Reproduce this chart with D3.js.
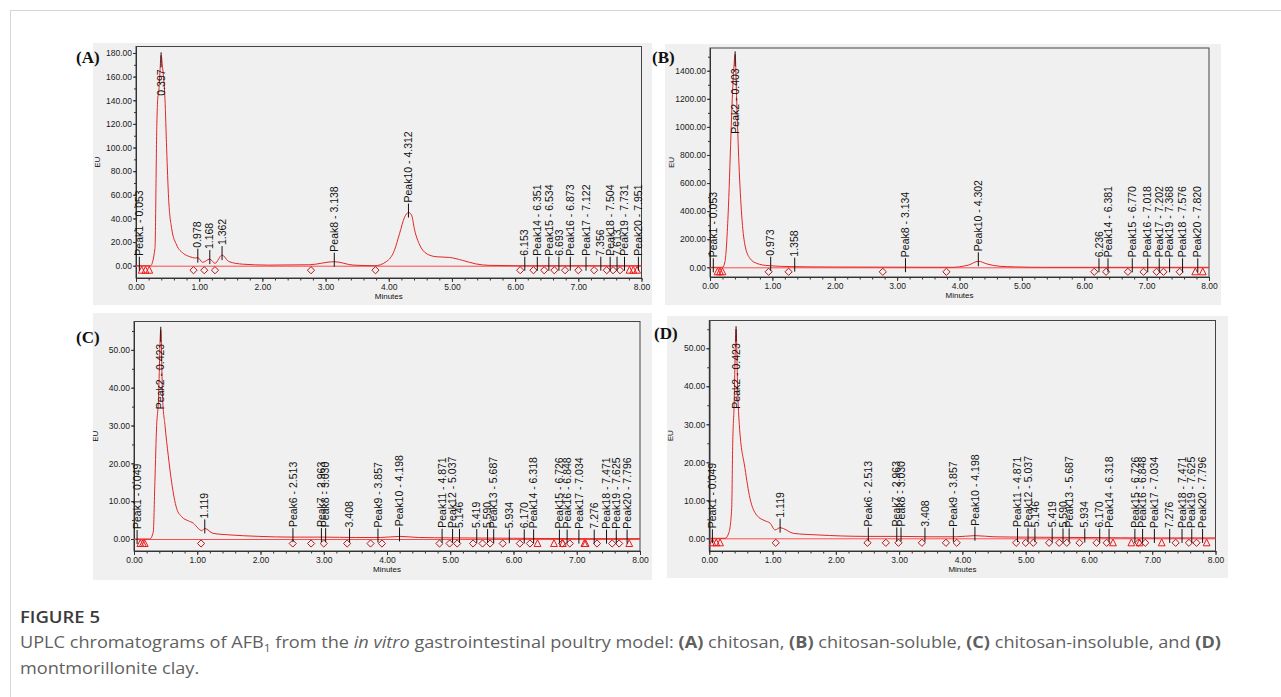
<!DOCTYPE html>
<html>
<head>
<meta charset="utf-8">
<script src="https://cdn.jsdelivr.net/npm/d3@7"></script>
<style>
  body { margin: 0; background: #fff; }
  svg text { font-family: "Liberation Sans", Arial, sans-serif; }
</style>
</head>
<body>
<svg id="fig" width="1281" height="697"></svg>
<script>
// values (minutes, EU)
var minutes = [0, 1, 2, 3, 4, 5, 6, 7, 8];

var traceA = [[0,0],[0.23,0],[0.30,14.7],[0.33,120],[0.345,142],[0.36,147],[0.38,165],[0.397,178],[0.42,168],[0.458,141.6],
    [0.485,99],[0.516,57],[0.564,31.6],[0.643,17.5],[0.748,10.5],[0.853,7.6],[0.94,6.5],[0.978,6.8],[1.054,2.9],[1.168,5.6],
    [1.25,2],[1.362,9],[1.47,3.5],[1.69,1.3],[2.1,0.5],[2.74,0.8],[3.138,3.4],[3.44,0.5],[3.78,0],[3.96,3.4],[4.09,13],
    [4.17,27],[4.25,41],[4.312,45],[4.36,43],[4.41,30],[4.49,17.5],[4.59,10.5],[4.75,7.6],[4.96,7],[5.17,4.5],[5.38,1.5],
    [5.59,0.3],[6.0,0],[8,0]];
var traceB = [[0,0],[0.2,0],[0.24,40],[0.29,372],[0.336,942],[0.357,1203],[0.38,1400],[0.403,1517],[0.427,1203],[0.465,728],
    [0.508,372],[0.56,159],[0.64,64],[0.75,28],[0.93,12],[1.3,5],[2,2],[3,1],[3.9,0],[4.0,4],[4.15,17],[4.302,43],[4.44,24],
    [4.65,7],[4.9,3],[5.3,0],[8,0]];
var traceC = [[0,0],[0.25,0],[0.305,1.9],[0.33,15],[0.358,30],[0.385,36],[0.423,55.3],[0.453,37],[0.49,30],[0.542,22],
    [0.595,15],[0.674,8.1],[0.753,5.9],[0.858,4.8],[0.937,4.2],[1.016,2.8],[1.07,2.2],[1.119,2.8],[1.25,1.5],[1.5,1.1],
    [1.97,0.7],[2.5,0.5],[3.0,0.5],[3.5,0.4],[3.9,0.4],[4.2,0.7],[4.5,0.4],[5,0.3],[6,0.2],[7,0.1],[8,0.1]];
var traceD = [[0,0],[0.25,0],[0.31,1.5],[0.354,7.9],[0.37,25],[0.39,34],[0.423,55],[0.45,38],[0.474,30],[0.564,18.4],
    [0.643,10.5],[0.748,6.1],[0.88,4.6],[0.96,4.0],[1.04,2.2],[1.119,2.8],[1.33,1.3],[1.7,0.9],[2.5,0.5],[3.0,0.5],
    [3.5,0.4],[3.9,0.4],[4.2,0.7],[4.5,0.4],[5,0.3],[6,0.2],[7,0.1],[8,0.1]];

// peak labels (retention time is the number at the end)
var labelsA = ["Peak1 - 0.053", "0.397", "0.978", "1.168", "1.362", "Peak8 - 3.138", "Peak10 - 4.312", "6.153",
    "Peak14 - 6.351", "Peak15 - 6.534", "6.693", "Peak16 - 6.873", "Peak17 - 7.122", "7.356", "Peak18 - 7.504",
    "7.613", "Peak19 - 7.731", "Peak20 - 7.951"];
var labelsB = ["Peak1 - 0.053", "Peak2 - 0.403", "0.973", "1.358", "Peak8 - 3.134", "Peak10 - 4.302", "6.236",
    "Peak14 - 6.381", "Peak15 - 6.770", "Peak16 - 7.018", "Peak17 - 7.202", "Peak19 - 7.368", "Peak18 - 7.576",
    "Peak20 - 7.820"];
var labelsCD = ["Peak1 - 0.049", "Peak2 - 0.423", "1.119", "Peak6 - 2.513", "Peak7 - 2.963", "Peak8 - 3.030", "3.408",
    "Peak9 - 3.857", "Peak10 - 4.198", "Peak11 - 4.871", "Peak12 - 5.037", "5.146", "5.419", "5.590", "Peak13 - 5.687",
    "5.934", "6.170", "Peak14 - 6.318", "Peak15 - 6.726", "Peak16 - 6.848", "Peak17 - 7.034", "7.276", "Peak18 - 7.471",
    "Peak19 - 7.625", "Peak20 - 7.796"];

// integration markers under the baseline
var diamondsA = [0.91, 1.08, 1.25, 2.77, 3.79, 6.08, 6.29, 6.46, 6.62, 6.79, 7.0, 7.25, 7.45, 7.55, 7.66];
var trianglesA = [0.09, 0.15, 0.21, 7.81, 7.87, 7.93];
var diamondsB = [0.94, 1.26, 2.77, 3.79, 6.16, 6.35, 6.7, 6.95, 7.16, 7.27, 7.53];
var trianglesB = [0.12, 0.16, 0.2, 7.78, 7.9];
var diamondsC = [1.06, 2.51, 2.8, 3.0, 3.37, 3.74, 3.92, 4.83, 4.99, 5.11, 5.36, 5.51, 5.63, 5.83, 6.1, 6.26, 6.77,
    6.89, 7.32, 7.56, 7.67];
var trianglesC = [0.1, 0.14, 0.17, 6.38, 6.64, 6.78, 7.12, 7.14, 7.83];
var diamondsD = [1.05, 2.5, 2.79, 2.99, 3.36, 3.74, 3.91, 4.85, 5.0, 5.12, 5.37, 5.53, 5.65, 5.85, 6.12, 6.28, 6.78,
    6.89, 7.37, 7.58, 7.7];
var trianglesD = [0.05, 0.11, 0.17, 6.38, 6.67, 6.8, 7.15, 7.86];

var yTicksA = d3.range(0, 181, 20), yTicksB = d3.range(0, 1401, 200), yTicksCD = d3.range(0, 51, 10);

var panels = [
    {letter: "(A)", trace: traceA, labels: labelsA, diamonds: diamondsA, triangles: trianglesA, yTicks: yTicksA, yStep: 10,
        box: [93, 43, 559, 262], plot: [136, 46.5, 641.5, 278], yDomain: [-10.4, 185.5], lpos: [76, 63]},
    {letter: "(B)", trace: traceB, labels: labelsB, diamonds: diamondsB, triangles: trianglesB, yTicks: yTicksB, yStep: 100,
        box: [665, 44, 556, 261], plot: [710, 48, 1209, 277], yDomain: [-69, 1562], lpos: [652, 63]},
    {letter: "(C)", trace: traceC, labels: labelsCD, diamonds: diamondsC, triangles: trianglesC, yTicks: yTicksCD, yStep: 5,
        box: [93, 313, 559, 267], plot: [134, 321.5, 640, 551], yDomain: [-3.17, 57.5], lpos: [76, 343]},
    {letter: "(D)", trace: traceD, labels: labelsCD, diamonds: diamondsD, triangles: trianglesD, yTicks: yTicksCD, yStep: 5,
        box: [667, 316, 561, 262], plot: [709.3, 320.5, 1215.5, 551], yDomain: [-3.34, 57.3], lpos: [654, 339]}
];

var svg = d3.select("#fig");

// page frame
svg.append("line").attr("x1", 10).attr("y1", 10.5).attr("x2", 1281).attr("y2", 10.5).attr("stroke", "#d6d6d6");
svg.append("line").attr("x1", 10.5).attr("y1", 10).attr("x2", 10.5).attr("y2", 697).attr("stroke", "#d6d6d6");

function traceAt(tr, t) {
    var i = d3.bisector(function(d) { return d[0]; }).left(tr, t);
    if (i <= 0) return tr[0][1];
    if (i >= tr.length) return tr[tr.length - 1][1];
    var a = tr[i - 1], b = tr[i];
    return a[1] + (b[1] - a[1]) * (t - a[0]) / (b[0] - a[0]);
}

function styleAxis(sel) {
    sel.attr("font-size", null).attr("font-family", null);
    sel.select(".domain").attr("stroke", "#333");
    sel.selectAll(".tick line").attr("stroke", "#333");
    sel.selectAll("text").style("font-size", "8.5px").attr("fill", "#1a1a1a");
}

function drawPanel(p) {
    var g = svg.append("g");
    var x0 = p.plot[0], y0 = p.plot[1], x1 = p.plot[2], y1 = p.plot[3];

    g.append("rect")
        .attr("x", p.box[0]).attr("y", p.box[1]).attr("width", p.box[2]).attr("height", p.box[3])
        .attr("fill", "#f0f0f0");

    var x = d3.scaleLinear().domain([0, 8]).range([x0, x1]);
    var y = d3.scaleLinear().domain(p.yDomain).range([y1, y0]);

    g.append("rect")
        .attr("x", x0).attr("y", y0).attr("width", x1 - x0).attr("height", y1 - y0)
        .attr("fill", "none").attr("stroke", "#444").attr("stroke-width", 1);

    // axes
    var xa = g.append("g").attr("transform", "translate(0," + y1 + ")")
        .call(d3.axisBottom(x).tickValues(minutes).tickFormat(d3.format(".2f")).tickSize(4).tickSizeOuter(0).tickPadding(2));
    styleAxis(xa);
    var xm = g.append("g").attr("transform", "translate(0," + y1 + ")")
        .call(d3.axisBottom(x).tickValues(d3.range(0, 8.001, 0.2)).tickFormat("").tickSize(2.5).tickSizeOuter(0));
    styleAxis(xm);

    var ya = g.append("g").attr("transform", "translate(" + x0 + ",0)")
        .call(d3.axisLeft(y).tickValues(p.yTicks).tickFormat(d3.format(".2f")).tickSize(3).tickSizeOuter(0).tickPadding(1));
    styleAxis(ya);
    var ym = g.append("g").attr("transform", "translate(" + x0 + ",0)")
        .call(d3.axisLeft(y).tickValues(d3.range(0, p.yDomain[1], p.yStep)).tickFormat("").tickSize(2).tickSizeOuter(0));
    styleAxis(ym);

    g.append("text")
        .attr("transform", "translate(" + (x0 - 36) + "," + ((y0 + y1) / 2) + ") rotate(-90)")
        .attr("text-anchor", "middle").style("font-size", "8px").attr("fill", "#111")
        .text("EU");
    g.append("text")
        .attr("x", (x0 + x1) / 2).attr("y", y1 + 21)
        .attr("text-anchor", "middle").style("font-size", "8px").attr("fill", "#111")
        .text("Minutes");

    g.append("text")
        .attr("x", p.lpos[0]).attr("y", p.lpos[1])
        .style("font-family", "'Liberation Serif', 'Times New Roman', serif")
        .style("font-size", "17px").style("font-weight", "bold").attr("fill", "#111")
        .text(p.letter);

    // baseline and trace
    g.append("line")
        .attr("x1", x(0)).attr("x2", x(8)).attr("y1", y(0) + 0.5).attr("y2", y(0) + 0.5)
        .attr("stroke", "#ff4a4a").attr("stroke-width", 1);

    var line = d3.line()
        .x(function(d) { return x(d[0]); })
        .y(function(d) { return y(d[1]); })
        .curve(d3.curveMonotoneX);
    g.append("path").datum(p.trace)
        .attr("d", line).attr("fill", "none").attr("stroke", "#e32626").attr("stroke-width", 1);

    // markers
    var my = y(0) + 4.5;
    g.selectAll(".dia").data(p.diamonds).enter().append("path")
        .attr("class", "dia")
        .attr("d", "M0,-3.6L3.6,0L0,3.6L-3.6,0Z")
        .attr("transform", function(d) { return "translate(" + x(d) + "," + my + ")"; })
        .attr("fill", "none").attr("stroke", "#b3161b").attr("stroke-width", 1);
    g.selectAll(".tri").data(p.triangles).enter().append("path")
        .attr("class", "tri")
        .attr("d", "M0,-3.8L3.4,3L-3.4,3Z")
        .attr("transform", function(d) { return "translate(" + x(d) + "," + my + ")"; })
        .attr("fill", "none").attr("stroke", "#f01818").attr("stroke-width", 1);

    // peak labels
    p.labels.forEach(function(lbl) {
        var t = parseFloat(lbl.split(" ").pop());
        var px = x(t);
        var apexY = y(Math.max(traceAt(p.trace, t), 0));
        var txt = g.append("text")
            .style("font-size", "10.5px").attr("fill", "#111").attr("dy", "0.35em")
            .text(lbl);
        var len = txt.node().getComputedTextLength();
        if (apexY - 10 - len < y0) {
            // no room above the apex: hang the label under it
            g.append("line").attr("x1", px).attr("x2", px).attr("y1", apexY - 3).attr("y2", apexY + 12)
                .attr("stroke", "#111");
            txt.attr("text-anchor", "end")
                .attr("transform", "translate(" + px + "," + (apexY + 14) + ") rotate(-90)");
        } else {
            g.append("line").attr("x1", px).attr("x2", px).attr("y1", apexY + 5).attr("y2", apexY - 9)
                .attr("stroke", "#111");
            txt.attr("text-anchor", "start")
                .attr("transform", "translate(" + px + "," + (apexY - 10) + ") rotate(-90)");
        }
    });
}

panels.forEach(drawPanel);

// caption
svg.append("text")
    .attr("x", 20).attr("y", 623)
    .style("font-family", "'Open Sans', sans-serif").style("font-size", "17px").style("font-weight", "600")
    .attr("fill", "#3a3a3a")
    .attr("textLength", 80).attr("lengthAdjust", "spacingAndGlyphs")
    .text("FIGURE 5");

var cap1 = svg.append("text")
    .attr("x", 20).attr("y", 648)
    .style("font-family", "'Open Sans', sans-serif").style("font-size", "16.5px")
    .attr("fill", "#5f5f5f");
cap1.append("tspan").text("UPLC chromatograms of AFB");
cap1.append("tspan").attr("dy", 4).style("font-size", "11px").text("1");
cap1.append("tspan").attr("dy", -4).text(" from the ");
cap1.append("tspan").style("font-style", "italic").text("in vitro");
cap1.append("tspan").text(" gastrointestinal poultry model: ");
cap1.append("tspan").style("font-weight", "700").text("(A)");
cap1.append("tspan").text(" chitosan, ");
cap1.append("tspan").style("font-weight", "700").text("(B)");
cap1.append("tspan").text(" chitosan-soluble, ");
cap1.append("tspan").style("font-weight", "700").text("(C)");
cap1.append("tspan").text(" chitosan-insoluble, and ");
cap1.append("tspan").style("font-weight", "700").text("(D)");

var cap2 = svg.append("text")
    .attr("x", 20).attr("y", 674)
    .style("font-family", "'Open Sans', sans-serif").style("font-size", "16.5px")
    .attr("fill", "#5f5f5f")
    .text("montmorillonite clay.");

var squeeze = 1201 / cap1.node().getComputedTextLength();
cap1.attr("textLength", 1201).attr("lengthAdjust", "spacingAndGlyphs");
cap2.attr("textLength", cap2.node().getComputedTextLength() * squeeze).attr("lengthAdjust", "spacingAndGlyphs");
</script>
</body>
</html>
